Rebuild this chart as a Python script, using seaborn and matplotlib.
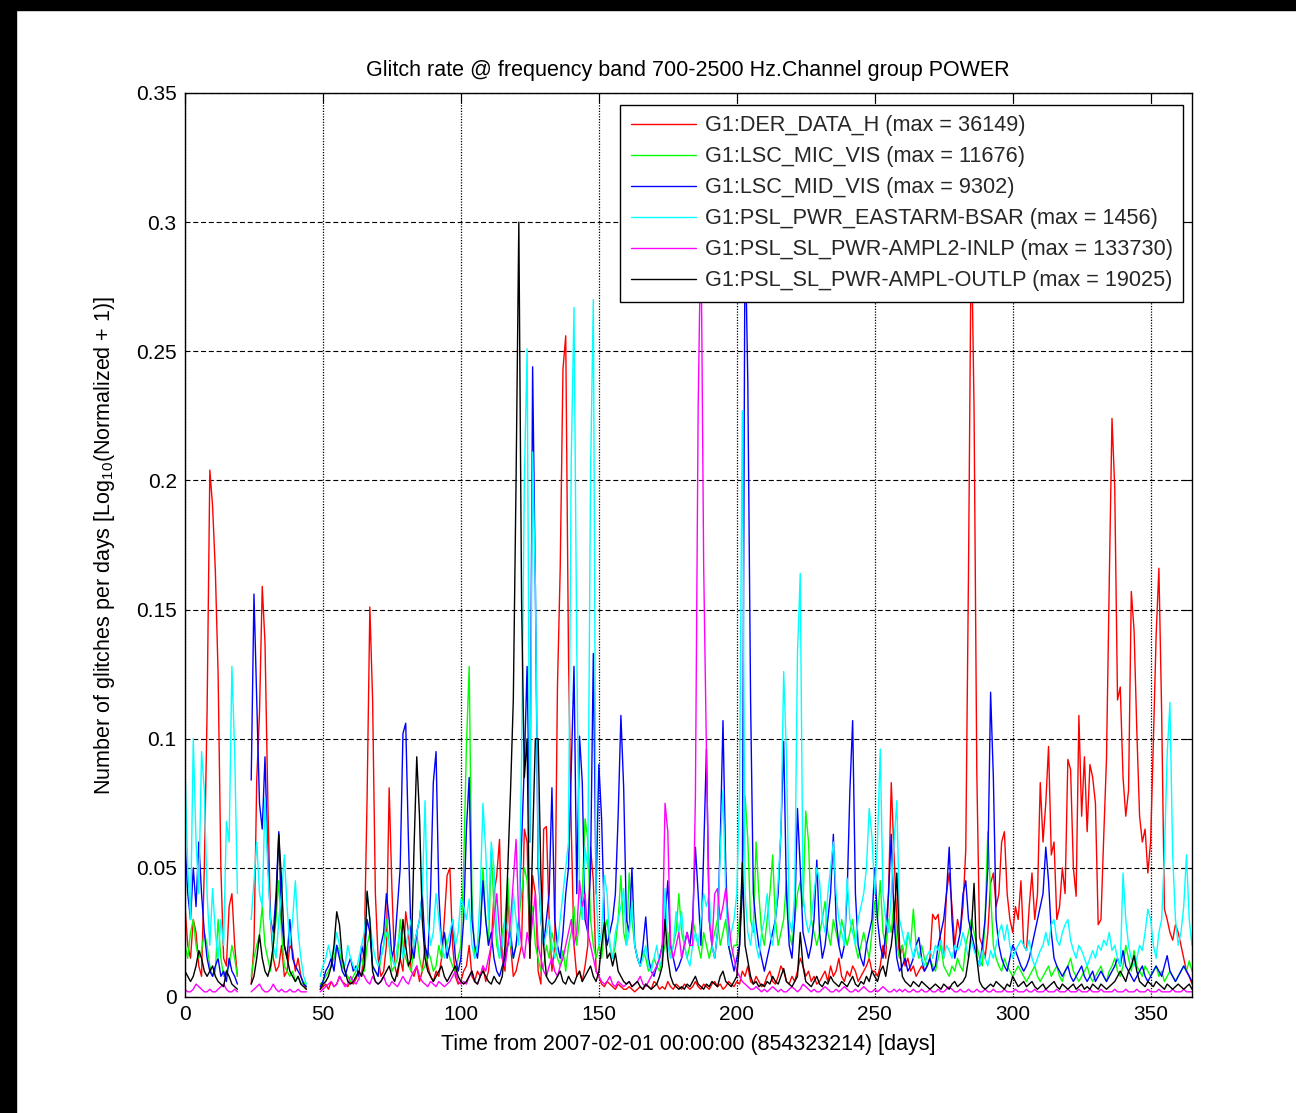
import numpy as np
import pandas as pd
import matplotlib
matplotlib.use("Agg")
import matplotlib.pyplot as plt
import seaborn as sns
from matplotlib.lines import Line2D
from matplotlib.patches import Rectangle

N = None  # missing data (gap)

title = "Glitch rate @ frequency band 700-2500 Hz.Channel group POWER"
xlabel = "Time from 2007-02-01 00:00:00 (854323214) [days]"
ylabel = "Number of glitches per days [Log$_{10}$(Normalized + 1)]"

channels = [
    "G1:DER_DATA_H (max = 36149)",
    "G1:LSC_MIC_VIS (max = 11676)",
    "G1:LSC_MID_VIS (max = 9302)",
    "G1:PSL_PWR_EASTARM-BSAR (max = 1456)",
    "G1:PSL_SL_PWR-AMPL2-INLP (max = 133730)",
    "G1:PSL_SL_PWR-AMPL-OUTLP (max = 19025)",
]
colors = ["#ff0000", "#00ff00", "#0000ff", "#00ffff", "#ff00ff", "#000000"]

xticks = [0, 50, 100, 150, 200, 250, 300, 350]
yticks = [0, 0.05, 0.1, 0.15, 0.2, 0.25, 0.3, 0.35]
ytick_labels = ["0", "0.05", "0.1", "0.15", "0.2", "0.25", "0.3", "0.35"]

days = list(range(366))

# values in thousandths of the y unit, one per day (day 0 .. 365)
red_milli = [
    35, 20, 15, 30, 25, 12, 8, 50, 110, 204,
    190, 165, 125, 50, 15, 12, 35, 40, 20, 8,
    N, N, N, N, 5, 20, 84, 110, 159, 137,
    77, 30, 15, 10, 12, 20, 8, 10, 20, 18,
    10, 15, 8, 5, 3, N, N, N, N, 3,
    4, 5, 3, 6, 4, 5, 8, 6, 5, 4,
    6, 5, 7, 10, 8, 20, 77, 151, 115, 40,
    15, 8, 10, 20, 81, 42, 12, 8, 15, 10,
    33, 25, 10, 8, 12, 6, 10, 20, 12, 8,
    6, 10, 8, 15, 30, 47, 50, 20, 8, 5,
    6, 10, 12, 20, 8, 6, 10, 8, 12, 6,
    10, 20, 40, 47, 61, 15, 10, 40, 20, 8,
    10, 15, 20, 65, 60, 15, 47, 40, 10, 5,
    65, 66, 30, 10, 20, 120, 166, 243, 256, 132,
    65, 20, 8, 10, 6, 12, 20, 58, 45, 10,
    8, 5, 4, 6, 5, 4, 3, 5, 4, 3,
    3, 4, 3, 2, 3, 4, 3, 5, 4, 3,
    6, 5, 3, 4, 3, 6, 4, 3, 5, 4,
    3, 5, 4, 3, 4, 6, 4, 3, 5, 4,
    3, 5, 6, 4, 5, 3, 4, 6, 5, 4,
    6, 5, 10, 8, 12, 6, 5, 8, 6, 4,
    5, 8, 10, 6, 5, 8, 12, 10, 6, 5,
    8, 6, 10, 15, 12, 8, 10, 6, 8, 5,
    6, 8, 10, 6, 12, 8, 10, 15, 8, 6,
    10, 8, 12, 10, 6, 8, 10, 12, 15, 10,
    10, 8, 12, 20, 15, 40, 83, 55, 30, 15,
    20, 12, 15, 10, 12, 8, 10, 12, 10, 12,
    15, 32, 30, 32, 20, 15, 40, 48, 35, 20,
    30, 25, 35, 57, 166, 300, 228, 87, 23, 20,
    15, 25, 44, 48, 35, 40, 60, 64, 40, 30,
    25, 35, 30, 45, 20, 18, 35, 48, 30, 40,
    83, 60, 75, 97, 55, 60, 30, 35, 50, 40,
    92, 88, 50, 39, 109, 70, 93, 64, 90, 85,
    75, 28, 30, 62, 92, 160, 224, 197, 115, 120,
    85, 70, 80, 157, 142, 103, 70, 60, 65, 48,
    60, 99, 140, 166, 110, 34, 30, 25, 22, 28,
    25, 20, 15, 10, 8, 5,
]

green_milli = [
    20, 15, 25, 30, 20, 15, 18, 25, 20, 12,
    8, 10, 30, 15, 8, 10, 12, 20, 15, 8,
    N, N, N, N, 8, 15, 20, 24, 35, 20,
    15, 10, 20, 30, 45, 25, 12, 10, 8, 10,
    6, 8, 5, 6, 4, N, N, N, N, 5,
    6, 8, 10, 12, 15, 20, 18, 12, 10, 8,
    6, 8, 10, 12, 15, 10, 20, 25, 12, 10,
    8, 15, 20, 30, 20, 10, 12, 15, 30, 20,
    15, 12, 10, 20, 25, 15, 10, 12, 18, 15,
    10, 12, 20, 15, 25, 20, 15, 12, 10, 15,
    20, 50, 97, 128, 40, 15, 20, 25, 50, 30,
    20, 56, 35, 20, 15, 25, 30, 46, 20, 15,
    20, 30, 40, 50, 45, 30, 35, 20, 15, 10,
    12, 20, 15, 25, 20, 15, 12, 18, 10, 20,
    25, 35, 20, 30, 40, 69, 61, 30, 20, 15,
    20, 15, 25, 30, 20, 15, 20, 30, 47, 25,
    20, 48, 30, 20, 15, 12, 18, 15, 10, 12,
    15, 12, 10, 15, 20, 25, 15, 20, 25, 40,
    25, 20, 15, 20, 30, 25, 20, 15, 25, 20,
    15, 20, 25, 30, 20, 25, 30, 20, 15, 20,
    20, 30, 45, 78, 61, 30, 25, 60, 40, 25,
    20, 30, 40, 55, 30, 20, 25, 30, 45, 25,
    20, 30, 40, 45, 35, 72, 60, 30, 25, 20,
    25, 30, 37, 25, 20, 30, 25, 20, 30, 25,
    20, 25, 30, 20, 15, 20, 25, 20, 15, 25,
    37, 30, 45, 25, 20, 30, 25, 37, 20, 15,
    20, 15, 25, 20, 34, 20, 15, 20, 15, 12,
    15, 12, 10, 15, 20, 12, 10, 8, 12, 10,
    15, 12, 10, 20, 25, 30, 25, 20, 15, 12,
    30, 64, 40, 20, 15, 12, 10, 15, 12, 10,
    8, 10, 12, 10, 8, 6, 8, 10, 12, 8,
    6, 8, 10, 12, 8, 10, 12, 8, 6, 10,
    12, 15, 10, 8, 6, 8, 10, 12, 8, 6,
    8, 10, 12, 8, 6, 10, 12, 15, 10, 8,
    12, 20, 15, 10, 18, 12, 10, 8, 12, 10,
    8, 10, 12, 8, 10, 6, 8, 10, 8, 6,
    8, 10, 12, 10, 14, 10,
]

blue_milli = [
    60, 40, 30, 50, 35, 60, 40, 25, 15, 10,
    8, 12, 15, 8, 10, 6, 15, 10, 8, 5,
    N, N, N, N, 84, 156, 115, 75, 65, 93,
    54, 30, 25, 40, 64, 30, 20, 15, 30, 15,
    12, 10, 8, 5, 4, N, N, N, N, 4,
    6, 10, 12, 15, 10, 20, 15, 10, 8, 12,
    15, 10, 12, 8, 20, 15, 30, 25, 12, 10,
    8, 20, 25, 40, 30, 15, 20, 35, 50, 102,
    106, 60, 20, 15, 25, 30, 40, 20, 15, 40,
    83, 95, 40, 20, 25, 15, 20, 30, 15, 10,
    15, 30, 65, 85, 30, 20, 15, 25, 45, 30,
    20, 25, 15, 10, 8, 12, 15, 20, 25, 15,
    20, 30, 60, 90, 128, 60, 244, 158, 50, 30,
    20, 30, 40, 81, 30, 20, 15, 25, 40, 50,
    88, 128, 40, 101, 83, 30, 25, 50, 133, 40,
    90, 69, 30, 20, 25, 30, 40, 70, 109, 81,
    30, 25, 50, 20, 15, 12, 20, 31, 15, 10,
    8, 12, 15, 20, 30, 45, 20, 15, 10, 12,
    15, 20, 25, 20, 30, 58, 40, 20, 56, 96,
    30, 20, 15, 25, 60, 107, 50, 20, 15, 10,
    15, 20, 40, 300, 238, 115, 40, 28, 20, 15,
    10, 15, 20, 25, 30, 40, 64, 99, 40, 20,
    15, 30, 73, 50, 25, 20, 15, 20, 30, 53,
    25, 15, 20, 30, 40, 63, 30, 20, 15, 20,
    40, 80, 107, 40, 20, 15, 12, 20, 25, 30,
    50, 30, 20, 15, 25, 40, 63, 30, 15, 10,
    12, 15, 10, 12, 15, 20, 23, 15, 10, 12,
    15, 10, 12, 20, 25, 30, 40, 58, 30, 15,
    20, 25, 40, 45, 30, 25, 20, 15, 12, 20,
    30, 50, 118, 85, 30, 20, 15, 12, 10, 15,
    20, 18, 15, 12, 10, 12, 15, 20, 25, 30,
    35, 40, 58, 45, 25, 15, 12, 10, 8, 10,
    12, 8, 6, 8, 10, 12, 8, 6, 8, 10,
    6, 8, 10, 8, 6, 8, 10, 12, 15, 12,
    18, 12, 10, 8, 6, 8, 10, 12, 8, 6,
    8, 10, 12, 10, 8, 12, 16, 10, 8, 6,
    8, 10, 12, 10, 8, 6,
]

cyan_milli = [
    89, 50, 30, 100, 60, 40, 95, 80, 40, 20,
    42, 25, 15, 30, 20, 68, 60, 128, 95, 40,
    N, N, N, N, 30, 45, 60, 40, 35, 77,
    50, 30, 20, 15, 30, 40, 55, 35, 20, 30,
    45, 25, 15, 8, 5, N, N, N, N, 8,
    12, 15, 20, 15, 18, 25, 20, 15, 12, 20,
    15, 12, 10, 15, 20, 25, 40, 30, 20, 15,
    12, 15, 20, 25, 20, 15, 12, 20, 25, 15,
    20, 25, 30, 20, 25, 30, 40, 76, 30, 20,
    25, 40, 30, 20, 15, 20, 25, 30, 20, 25,
    38, 35, 30, 38, 20, 15, 20, 40, 75, 56,
    30, 60, 50, 25, 15, 20, 30, 25, 20, 40,
    30, 20, 93, 200, 251, 60, 211, 160, 56, 30,
    20, 25, 30, 20, 15, 20, 30, 40, 50, 60,
    208, 267, 135, 40, 30, 58, 50, 203, 270, 40,
    20, 25, 47, 40, 20, 15, 25, 30, 35, 42,
    20, 25, 37, 20, 15, 12, 15, 20, 12, 10,
    15, 20, 12, 15, 42, 20, 15, 20, 33, 25,
    33, 20, 15, 12, 20, 25, 20, 30, 40, 35,
    40, 20, 15, 25, 56, 80, 40, 20, 25, 30,
    40, 79, 227, 40, 25, 20, 30, 20, 15, 25,
    30, 40, 25, 20, 30, 45, 64, 126, 94, 30,
    25, 40, 133, 164, 40, 30, 25, 30, 40, 50,
    45, 30, 25, 40, 50, 60, 40, 30, 25, 20,
    46, 30, 25, 20, 30, 35, 40, 50, 73, 62,
    40, 60, 96, 40, 30, 25, 40, 60, 76, 30,
    25, 20, 25, 20, 15, 20, 16, 15, 12, 16,
    18, 15, 20, 18, 22, 15, 20, 18, 15, 20,
    18, 20, 25, 20, 15, 22, 18, 15, 12, 18,
    15, 12, 18, 15, 20, 25, 28, 22, 28, 20,
    15, 18, 20, 22, 20, 18, 22, 15, 12, 15,
    18, 20, 25, 20, 28, 30, 22, 20, 25, 28,
    30, 22, 18, 15, 20, 18, 15, 12, 15, 18,
    15, 20, 18, 22, 20, 25, 18, 20, 15, 12,
    48, 30, 20, 15, 12, 15, 20, 18, 25, 34,
    30, 20, 15, 25, 30, 55, 94, 114, 55, 30,
    20, 25, 35, 55, 30, 20,
]

magenta_milli = [
    3, 2, 2, 3, 5, 4, 3, 2, 2, 3,
    2, 2, 3, 4, 5, 3, 2, 2, 3, 2,
    N, N, N, N, 2, 3, 4, 5, 3, 2,
    2, 3, 5, 3, 2, 3, 2, 2, 3, 2,
    2, 3, 2, 2, 2, N, N, N, N, 2,
    3, 4, 5, 6, 4, 5, 8, 6, 4, 5,
    8, 6, 5, 7, 10, 8, 6, 5, 8, 6,
    5, 6, 8, 5, 4, 6, 5, 4, 6, 8,
    6, 5, 8, 10, 12, 8, 6, 5, 4, 6,
    5, 4, 6, 5, 4, 5, 6, 8, 10, 6,
    5, 6, 5, 8, 10, 6, 5, 8, 12, 10,
    15, 20, 30, 40, 25, 15, 12, 20, 30, 45,
    61, 30, 20, 15, 25, 20, 30, 40, 20, 15,
    10, 8, 12, 15, 10, 8, 12, 15, 20, 25,
    30, 20, 25, 45, 35, 40, 25, 20, 15, 10,
    8, 6, 5, 6, 8, 5, 4, 6, 5, 4,
    5, 6, 4, 5, 6, 8, 5, 4, 6, 8,
    10, 12, 15, 20, 75, 64, 20, 15, 20, 25,
    15, 20, 25, 20, 20, 77, 228, 300, 167, 95,
    30, 20, 40, 42, 30, 35, 42, 30, 20, 15,
    10, 8, 6, 5, 4, 3, 3, 4, 3, 2,
    3, 2, 3, 4, 3, 2, 3, 2, 2, 3,
    4, 3, 2, 3, 5, 4, 3, 2, 3, 2,
    2, 3, 4, 3, 2, 2, 3, 2, 3, 4,
    3, 2, 2, 3, 2, 3, 4, 3, 2, 2,
    3, 2, 3, 4, 3, 2, 2, 3, 2, 3,
    2, 3, 2, 2, 3, 2, 2, 3, 2, 2,
    3, 2, 2, 3, 2, 2, 3, 4, 3, 2,
    2, 3, 2, 2, 3, 2, 2, 3, 2, 2,
    3, 2, 2, 3, 2, 2, 2, 3, 2, 2,
    2, 3, 2, 2, 2, 3, 2, 2, 3, 2,
    2, 2, 3, 2, 2, 2, 3, 2, 2, 2,
    3, 2, 2, 2, 3, 2, 2, 2, 3, 2,
    2, 2, 3, 2, 2, 2, 2, 3, 2, 2,
    2, 3, 2, 2, 2, 3, 2, 2, 2, 3,
    2, 2, 2, 3, 2, 2, 2, 2, 3, 2,
    2, 2, 3, 2, 2, 2,
]

black_milli = [
    10, 8, 6, 8, 12, 18, 15, 10, 8, 10,
    12, 8, 6, 5, 4, 10, 8, 5, 4, 3,
    N, N, N, N, 5, 8, 15, 24, 15, 10,
    8, 12, 20, 35, 63, 45, 20, 15, 10, 8,
    6, 8, 5, 4, 3, N, N, N, N, 3,
    5, 6, 8, 12, 20, 33, 28, 15, 10, 6,
    5, 6, 8, 10, 8, 12, 41, 30, 10, 6,
    5, 6, 8, 10, 12, 8, 6, 10, 15, 30,
    20, 12, 15, 57, 93, 70, 30, 15, 10, 8,
    6, 8, 10, 12, 8, 6, 8, 10, 12, 8,
    6, 5, 6, 8, 10, 6, 5, 8, 10, 8,
    6, 5, 8, 6, 5, 8, 20, 50, 80, 115,
    200, 300, 153, 85, 100, 15, 60, 100, 100, 47,
    20, 8, 6, 5, 6, 8, 10, 6, 5, 8,
    6, 5, 8, 10, 6, 8, 10, 12, 8, 6,
    10, 20, 29, 15, 17, 12, 17, 10, 8, 6,
    5, 6, 4, 5, 6, 4, 3, 5, 4, 3,
    4, 5, 8, 12, 30, 15, 8, 5, 4, 3,
    4, 3, 5, 4, 6, 8, 5, 4, 3, 5,
    4, 6, 5, 4, 8, 10, 6, 5, 4, 6,
    8, 20, 52, 20, 14, 8, 5, 6, 4, 5,
    4, 6, 5, 8, 6, 5, 8, 11, 6, 5,
    4, 6, 8, 25, 12, 6, 5, 4, 6, 8,
    5, 4, 6, 5, 8, 6, 5, 4, 6, 5,
    4, 6, 8, 5, 4, 6, 5, 8, 6, 10,
    8, 6, 10, 12, 8, 15, 20, 30, 48, 20,
    8, 6, 5, 4, 6, 5, 4, 6, 5, 4,
    3, 4, 5, 4, 3, 5, 4, 3, 5, 6,
    4, 5, 6, 8, 15, 25, 44, 15, 6, 4,
    3, 4, 5, 4, 6, 5, 4, 3, 5, 4,
    8, 6, 4, 5, 6, 4, 5, 6, 4, 3,
    4, 5, 3, 4, 5, 6, 4, 3, 5, 4,
    3, 4, 5, 3, 4, 5, 3, 4, 3, 5,
    4, 3, 5, 4, 3, 4, 5, 6, 8, 10,
    8, 6, 10, 12, 16, 10, 6, 5, 4, 6,
    5, 4, 6, 5, 4, 3, 5, 4, 3, 4,
    5, 4, 3, 4, 5, 3,
]

series = [red_milli, green_milli, blue_milli, cyan_milli, magenta_milli, black_milli]
for s in series:
    assert len(s) == len(days), len(s)

# ---------------- style ----------------
sns.set_theme(style="white")
plt.rcParams["font.family"] = ["Liberation Sans", "DejaVu Sans"]
plt.rcParams["mathtext.fontset"] = "custom"
plt.rcParams["mathtext.rm"] = "Liberation Sans"
plt.rcParams["mathtext.it"] = "Liberation Sans:italic"
plt.rcParams["mathtext.bf"] = "Liberation Sans:bold"

W, H = 1296, 1113
fig = plt.figure(figsize=(W / 100, H / 100), dpi=100, facecolor="white")
ax_l, ax_r, ax_t, ax_b = 185, 1192, 93, 997
ax = fig.add_axes([ax_l / W, (H - ax_b) / H, (ax_r - ax_l) / W, (ax_b - ax_t) / H])
ax.set_facecolor("white")

for vals, col in zip(series, colors):
    arr = np.array(vals, dtype=float) / 1000.0
    seg = np.cumsum(np.isnan(arr))
    df = pd.DataFrame({"day": days, "value": arr, "seg": seg}).dropna()
    sns.lineplot(data=df, x="day", y="value", units="seg", estimator=None,
                 color=col, linewidth=1.0, ax=ax, legend=False, sort=False)

ax.set_xlim(0, 365)
ax.set_ylim(0, 0.35)
ax.set_xticks(xticks)
ax.set_xticklabels([str(t) for t in xticks])
ax.set_yticks(yticks)
ax.set_yticklabels(ytick_labels)
ax.tick_params(direction="in", length=7, width=0.8, top=True, right=True,
               labelsize=15, pad=6, colors="black")
for sp in ax.spines.values():
    sp.set_color("black")
    sp.set_linewidth(1.0)
    sp.set_visible(True)

ax.set_axisbelow(True)
ax.yaxis.grid(True, linestyle=(0, (4.5, 2.5)), color="black", linewidth=0.8)
ax.xaxis.grid(True, linestyle=(0, (1.0, 1.2)), color="black", linewidth=0.9)

ax.set_xlabel(xlabel, fontsize=15.5, color="black")
ax.xaxis.set_label_coords(0.5, (ax_b - 1034) / (ax_b - ax_t))
ax.set_ylabel(ylabel, fontsize=15.5, color="black")
ax.yaxis.set_label_coords((117 - ax_l) / (ax_r - ax_l), 0.5)

fig.text(688 / W, 1 - 76 / H, title, ha="center", va="baseline",
         fontsize=15.5, color="black")

handles = [Line2D([0], [0], color=c, lw=1.0) for c in colors]
leg = ax.legend(handles, channels, loc="upper right",
                bbox_to_anchor=((1183 - ax_l) / (ax_r - ax_l), (ax_b - 105) / (ax_b - ax_t)),
                borderaxespad=0, fontsize=15.6, frameon=True, fancybox=False,
                framealpha=1, edgecolor="black", facecolor="white",
                handlelength=3.0, handletextpad=0.42, labelspacing=0.46,
                borderpad=0.48)
leg.get_frame().set_linewidth(1.0)

# black bands at top and left edge of the picture
fig.patches.append(Rectangle((0, 0), 16 / W, 1, transform=fig.transFigure,
                             color="black", zorder=10))
fig.patches.append(Rectangle((0, 1 - 10 / H), 1, 10 / H, transform=fig.transFigure,
                             color="black", zorder=10))

fig.savefig("out.png", dpi=100, facecolor="white")
